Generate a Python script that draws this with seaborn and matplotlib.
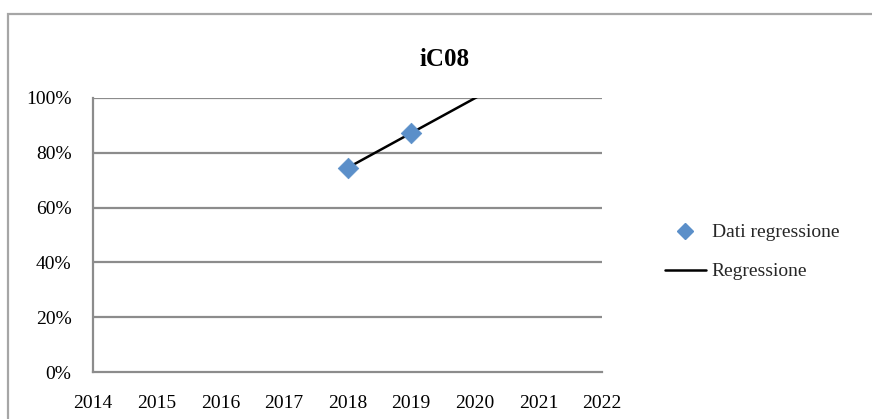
import numpy as np
import pandas as pd
import matplotlib
matplotlib.use("Agg")
import matplotlib.pyplot as plt
import seaborn as sns
from matplotlib.lines import Line2D
from matplotlib.patches import Rectangle

# ---- data ----
title = "iC08"
years = [2018, 2019]
values = [0.745, 0.872]
forecast_end = 2021
x_ticks = [2014, 2015, 2016, 2017, 2018, 2019, 2020, 2021, 2022]
y_ticks = [0.0, 0.2, 0.4, 0.6, 0.8, 1.0]
y_tick_labels = ["0%", "20%", "40%", "60%", "80%", "100%"]
legend_labels = ["Dati regressione", "Regressione"]

sns.set_theme(style="white")
plt.rcParams["font.family"] = ["Liberation Serif", "DejaVu Serif"]

W, H = 872, 419
fig = plt.figure(figsize=(W / 100, H / 100), dpi=100)
fig.patch.set_facecolor("white")

# outer chart border (extends past right/bottom edges)
fig.add_artist(Rectangle((8 / W, -0.1), 1.2, 1 - 14 / H + 0.1, transform=fig.transFigure,
                         fill=False, edgecolor="#a6a6a6", linewidth=1.6, zorder=0))

ax = fig.add_axes([93 / W, 1 - 372 / H, (602 - 93) / W, (372 - 98) / H])

df = pd.DataFrame({"year": years, "value": values})
coef = np.polyfit(df["year"], df["value"], 1)
fit_x = np.array([min(years), forecast_end], dtype=float)
fit_df = pd.DataFrame({"year": fit_x, "value": np.polyval(coef, fit_x)})

grid_color = "#8c8c8c"
for yv in y_ticks[1:]:
    ax.axhline(yv, color=grid_color, linewidth=1.6, zorder=1)

sns.lineplot(data=fit_df, x="year", y="value", ax=ax, color="black", linewidth=1.8,
             zorder=3, legend=False)
sns.scatterplot(data=df, x="year", y="value", ax=ax, marker="D", s=110,
                color="#5b8fc9", edgecolor="#5b8fc9", linewidth=0.5, zorder=4, legend=False)

ax.set_xlim(2014, 2022)
ax.set_ylim(0, 1)
ax.set_xticks(x_ticks)
ax.set_xticklabels([str(v) for v in x_ticks])
ax.set_yticks(y_ticks)
ax.set_yticklabels(y_tick_labels)
ax.set_xlabel("")
ax.set_ylabel("")

for s in ["top", "right"]:
    ax.spines[s].set_visible(False)
for s in ["left", "bottom"]:
    ax.spines[s].set_color(grid_color)
    ax.spines[s].set_linewidth(1.6)

ax.tick_params(axis="both", which="major", direction="out", length=5, width=1.4,
               color=grid_color, labelsize=14, labelcolor="black")
ax.tick_params(axis="x", pad=11.5)
ax.tick_params(axis="y", pad=10.5)
ax.set_facecolor("white")

fig.text(445 / W, 1 - 60 / H, title, ha="center", va="center", fontsize=18,
         fontweight="bold", color="black")

handles = [
    Line2D([], [], linestyle="none", marker="D", markersize=8, color="#5b8fc9"),
    Line2D([], [], color="black", linewidth=1.8),
]
fig.legend(handles, legend_labels, loc="center left",
           bbox_to_anchor=(665 / W, 1 - 252 / H), frameon=False, fontsize=14,
           handlelength=2.1, handletextpad=0.3, labelspacing=1.1,
           borderpad=0, borderaxespad=0)

fig.savefig("out.png", dpi=100, facecolor="white")
